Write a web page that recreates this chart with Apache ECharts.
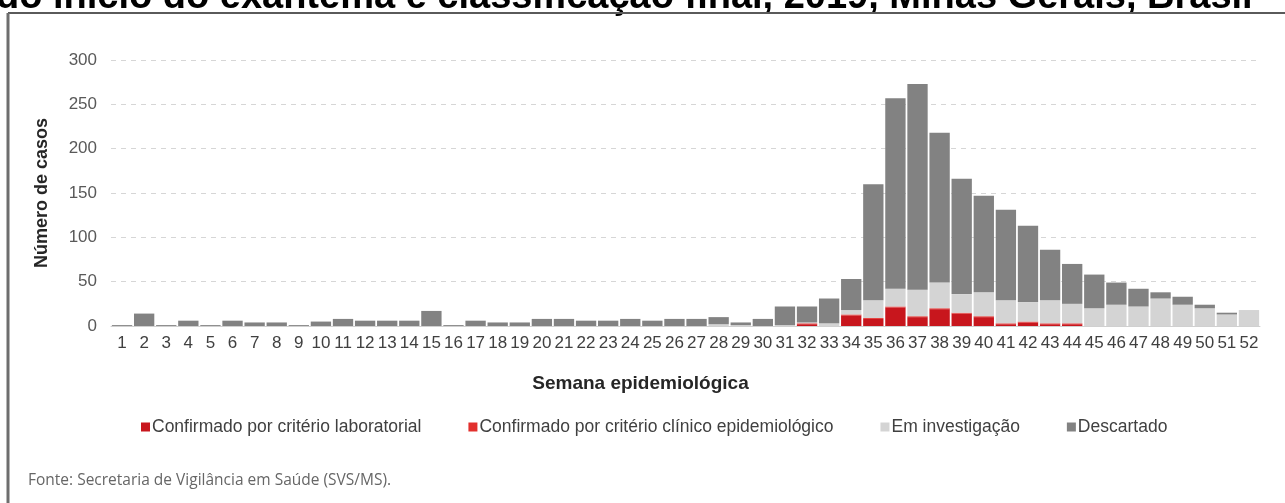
<!DOCTYPE html>
<html>
<head>
<meta charset="utf-8">
<script src="https://cdn.jsdelivr.net/npm/echarts@6/dist/echarts.min.js"></script>
<style>
html, body { margin: 0; padding: 0; background: #fff; }
#main { width: 1285px; height: 503px; }
</style>
</head>
<body>
<div id="main"></div>
<script>
// semanas epidemiológicas 1..52
var semanas = [];
for (var i = 1; i <= 52; i++) semanas.push(String(i));

var yTicks = [0, 50, 100, 150, 200, 250, 300];

var laboratorial = [0,0,0,0,0,0,0,0,0,0, 0,0,0,0,0,0,0,0,0,0,
                    0,0,0,0,0,0,0,0,0,0, 0,2,0,12,8,21,10,19,14,10,
                    2,4,2,2,0,0,0,0,0,0, 0,0];
var clinico = [0,0,0,0,0,0,0,0,0,0, 0,0,0,0,0,0,0,0,0,0,
               0,0,0,0,0,0,0,0,0,0, 0,1,0,1,1,1,1,1,1,1,
               1,1,1,1,0,0,0,0,0,0, 0,0];
var investigacao = [0,0,0,0,0,0,0,0,0,0, 0,0,0,0,0,0,0,0,0,0,
                    0,0,0,0,0,0,0,2,1,0, 1,1,3,5,20,20,30,29,21,27,
                    26,22,26,22,20,24,22,31,24,20, 13,18];
var descartado = [1,14,1,6,1,6,4,4,1,5, 8,6,6,6,17,1,6,4,4,8,
                  8,6,6,8,6,8,8,8,3,8, 21,18,28,35,131,215,232,169,130,109,
                  102,86,57,45,38,25,20,7,9,4, 2,0];

var nomes = ['Confirmado por critério laboratorial', 'Confirmado por critério clínico epidemiológico', 'Em investigação', 'Descartado'];
var cores = ['#c8161d', '#e2302d', '#d4d4d4', '#828282'];

var myChart = echarts.init(document.getElementById('main'));

function serie(idx, dados) {
    return {
        name: nomes[idx],
        type: 'bar',
        stack: 'total',
        barCategoryGap: '8%',
        itemStyle: { color: cores[idx] },
        data: dados
    };
}

var option = {
    backgroundColor: '#fff',
    textStyle: { fontFamily: 'Liberation Sans, Arial, sans-serif' },
    graphic: [
        {   // título cortado no topo
            type: 'text', left: -4, top: -21,
            style: { text: 'do início do exantema e classificação final, 2019, Minas Gerais, Brasil',
                     font: 'bold 38px "Liberation Sans", Arial, sans-serif', fill: '#000' }
        },
        {
            type: 'line', shape: { x1: 8, y1: 13, x2: 1285, y2: 13 },
            style: { stroke: '#5a5a5a', lineWidth: 2 }
        },
        {
            type: 'line', shape: { x1: 8, y1: 13, x2: 8, y2: 503 },
            style: { stroke: '#6e6e6e', lineWidth: 3 }
        },
        {
            type: 'text', left: 28, top: 473,
            style: { text: 'Fonte: Secretaria de Vigilância em Saúde (SVS/MS).',
                     font: '15.5px "Open Sans", sans-serif', fill: '#666' }
        }
    ],
    legend: {
        left: 136,
        top: 413,
        itemWidth: 9,
        itemHeight: 9,
        itemGap: 47,
        icon: 'rect',
        textStyle: { fontSize: 17.5, color: '#404040', padding: [0, 0, 0, -3] },
        data: nomes
    },
    grid: {
        left: 111,
        right: 25,
        top: 60,
        bottom: 177
    },
    xAxis: {
        type: 'category',
        data: semanas,
        name: 'Semana epidemiológica',
        nameLocation: 'middle',
        nameGap: 48,
        nameTextStyle: { fontSize: 19, fontWeight: 'bold', color: '#262626', padding: [0, 90, 0, 0] },
        axisLine: { lineStyle: { color: '#d0d0d0' } },
        axisTick: { show: false },
        axisLabel: { interval: 0, fontSize: 17, color: '#404040', margin: 9 }
    },
    yAxis: {
        type: 'value',
        min: 0,
        max: 300,
        interval: 50,
        name: 'Número de casos',
        nameLocation: 'middle',
        nameGap: 60,
        nameTextStyle: { fontSize: 18, fontWeight: 'bold', color: '#262626' },
        axisLabel: { fontSize: 17, color: '#595959', margin: 14,
                     formatter: function (v) { return yTicks.indexOf(v) >= 0 ? v : ''; } },
        splitLine: { lineStyle: { color: '#d6d6d6', type: [5, 5] } }
    },
    series: [
        serie(0, laboratorial),
        serie(1, clinico),
        serie(2, investigacao),
        serie(3, descartado)
    ]
};
myChart.setOption(option, true);
</script>
</body>
</html>
